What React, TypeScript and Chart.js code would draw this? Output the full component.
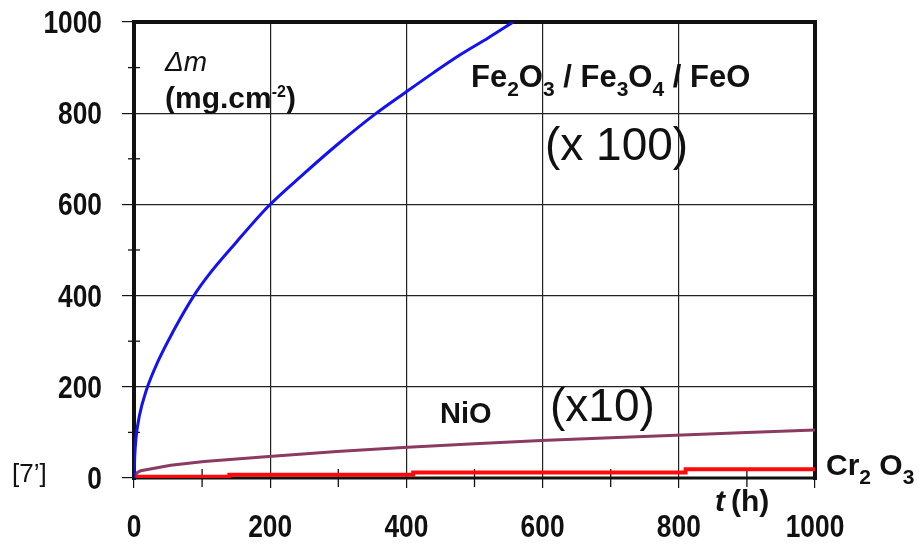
import React, { useEffect, useRef } from "react";
import { Chart, registerables } from "chart.js";

Chart.register(...registerables);

// ---- data ----
const feTime = [0, 1, 3, 8, 18, 35, 57, 88, 110, 149, 198, 250, 300, 354, 398, 440, 479, 520, 557];
const feGain = [0, 45, 88, 137, 192, 255, 320, 400, 446, 515, 597, 668, 733, 798, 845, 889, 928, 965, 1000];

const nioTime = [0, 5, 10, 54, 103, 198, 298, 395, 500, 598, 700, 796, 900, 1000];
const nioGain = [2, 12, 16, 28, 36, 47, 58, 67, 75, 82, 88, 94, 100, 105];

const crTime = [0, 140, 410, 810, 1000];
const crGain = [3, 7, 12, 19, 19];

const xTicks = [0, 200, 400, 600, 800, 1000];
const yTicks = [0, 200, 400, 600, 800, 1000];
const minorTicks = [100, 300, 500, 700, 900];

const SANS = "'Liberation Sans', Arial, Helvetica, sans-serif";

const toPts = (xs: number[], ys: number[]) => xs.map((x, i) => ({ x, y: ys[i] }));

type Part = [string, string, number];
function rich(ctx: CanvasRenderingContext2D, x: number, y: number, parts: Part[]) {
  let cx = x;
  for (const [t, f, dy] of parts) {
    ctx.font = f;
    ctx.fillText(t, cx, y + dy);
    cx += ctx.measureText(t).width;
  }
}

// condensed bold label (narrow look of the original tick labels)
function narrow(ctx: CanvasRenderingContext2D, text: string, x: number, y: number, align: "right" | "center") {
  const sx = 0.85;
  ctx.save();
  ctx.font = `bold 31px ${SANS}`;
  ctx.textAlign = align;
  ctx.textBaseline = "alphabetic";
  ctx.translate(x, y);
  ctx.scale(sx, 1);
  ctx.fillText(text, 0, 0);
  ctx.restore();
}

const framePlugin = {
  id: "frame",
  beforeDatasetsDraw(chart: any) {
    const ctx = chart.ctx as CanvasRenderingContext2D;
    const { left, right, top, bottom } = chart.chartArea;
    const xs = chart.scales.x;
    const ys = chart.scales.y;
    ctx.save();
    ctx.strokeStyle = "#111";
    // minor ticks
    ctx.lineWidth = 1.3;
    for (const v of minorTicks) {
      const py = ys.getPixelForValue(v);
      ctx.beginPath();
      ctx.moveTo(left - 6, py);
      ctx.lineTo(left + 6, py);
      ctx.stroke();
      const px = xs.getPixelForValue(v);
      ctx.beginPath();
      ctx.moveTo(px, bottom - 9);
      ctx.lineTo(px, bottom + 9);
      ctx.stroke();
    }
    // frame
    ctx.lineWidth = 4;
    ctx.beginPath();
    ctx.moveTo(left - 2, top);
    ctx.lineTo(right + 2, top);
    ctx.moveTo(left, top - 2);
    ctx.lineTo(left, bottom + 2);
    ctx.moveTo(right, top - 2);
    ctx.lineTo(right, bottom + 2);
    ctx.stroke();
    ctx.lineWidth = 3;
    ctx.beginPath();
    ctx.moveTo(left - 2, bottom);
    ctx.lineTo(right + 2, bottom);
    ctx.stroke();
    ctx.restore();

    // tick labels
    ctx.save();
    ctx.fillStyle = "#111";
    for (const v of yTicks) {
      narrow(ctx, String(v), 102, ys.getPixelForValue(v) + 11, "right");
    }
    for (const v of xTicks) {
      narrow(ctx, String(v), xs.getPixelForValue(v), 537, "center");
    }
    ctx.restore();
  },
  afterDraw(chart: any) {
    const ctx = chart.ctx as CanvasRenderingContext2D;
    ctx.save();
    ctx.fillStyle = "#111";
    ctx.textBaseline = "alphabetic";
    ctx.textAlign = "left";
    const B30 = `bold 31px ${SANS}`;
    const S21 = `bold 21px ${SANS}`;
    // Δm (mg.cm-2)
    ctx.font = `italic 28px ${SANS}`;
    ctx.fillText("Δm", 165, 71);
    rich(ctx, 165, 108, [
      ["(mg.cm", `bold 30px ${SANS}`, 0],
      ["-2", `bold 16px ${SANS}`, -11],
      [")", `bold 30px ${SANS}`, 0],
    ]);
    // Fe oxides
    rich(ctx, 471, 87, [
      ["Fe", B30, 0], ["2", S21, 9], ["O", B30, 0], ["3", S21, 9], [" / ", B30, 0],
      ["Fe", B30, 0], ["3", S21, 9], ["O", B30, 0], ["4", S21, 9], [" / ", B30, 0],
      ["FeO", B30, 0],
    ]);
    ctx.font = `46px ${SANS}`;
    ctx.fillText("(x 100)", 545, 160);
    ctx.fillText("(x10)", 550, 421);
    ctx.font = `bold 29px ${SANS}`;
    ctx.fillText("NiO", 440, 423);
    rich(ctx, 826, 475, [["Cr", `bold 30px ${SANS}`, 0], ["2", S21, 9], [" ", `bold 30px ${SANS}`, 0], ["O", `bold 30px ${SANS}`, 0], ["3", S21, 9]]);
    ctx.font = `italic bold 30px ${SANS}`;
    ctx.fillText("t", 715, 511);
    ctx.font = `bold 30px ${SANS}`;
    ctx.fillText("(h)", 731, 511);
    ctx.font = `26px ${SANS}`;
    ctx.fillText("[7’]", 12, 482);
    ctx.restore();
  },
};

const noPad = (s: any) => {
  s.paddingTop = 0;
  s.paddingBottom = 0;
  s.paddingLeft = 0;
  s.paddingRight = 0;
};

export default function App() {
  const ref = useRef<HTMLCanvasElement | null>(null);
  useEffect(() => {
    if (!ref.current) return;
    const chart = new Chart(ref.current, {
      type: "line",
      data: {
        datasets: [
          {
            label: "Fe2O3 / Fe3O4 / FeO (x100)",
            data: toPts(feTime, feGain),
            borderColor: "#1212f2",
            borderWidth: 3,
            pointRadius: 0,
            cubicInterpolationMode: "monotone",
          },
          {
            label: "Cr2O3",
            data: toPts(crTime, crGain),
            borderColor: "#ff0a0a",
            borderWidth: 4,
            pointRadius: 0,
            stepped: true,
          },
          {
            label: "NiO (x10)",
            data: toPts(nioTime, nioGain),
            borderColor: "#8b3a62",
            borderWidth: 3,
            pointRadius: 0,
          },
        ],
      },
      options: {
        animation: false,
        responsive: false,
        layout: { padding: { top: 22, right: 104, left: 0, bottom: 0 } },
        plugins: { legend: { display: false }, tooltip: { enabled: false } },
        scales: {
          x: {
            type: "linear",
            min: 0,
            max: 1000,
            afterFit: (s: any) => { s.height = 67; noPad(s); },
            afterBuildTicks: (s: any) => { s.ticks = xTicks.map((v) => ({ value: v })); },
            ticks: { display: false },
            grid: { color: "#222", lineWidth: 1.2, tickLength: 10, tickColor: "#111" },
            border: { display: false },
          },
          y: {
            type: "linear",
            min: 0,
            max: 1000,
            afterFit: (s: any) => { s.width = 134; noPad(s); },
            afterBuildTicks: (s: any) => { s.ticks = yTicks.map((v) => ({ value: v })); },
            ticks: { display: false },
            grid: { color: "#222", lineWidth: 1.2, tickLength: 12, tickColor: "#111" },
            border: { display: false },
          },
        },
      },
      plugins: [framePlugin],
    });
    return () => chart.destroy();
  }, []);
  return (
    <div style={{ position: "fixed", left: 0, top: 0, width: 919, height: 545, background: "#fff" }}>
      <canvas ref={ref} width={919} height={545} style={{ display: "block" }} />
    </div>
  );
}
